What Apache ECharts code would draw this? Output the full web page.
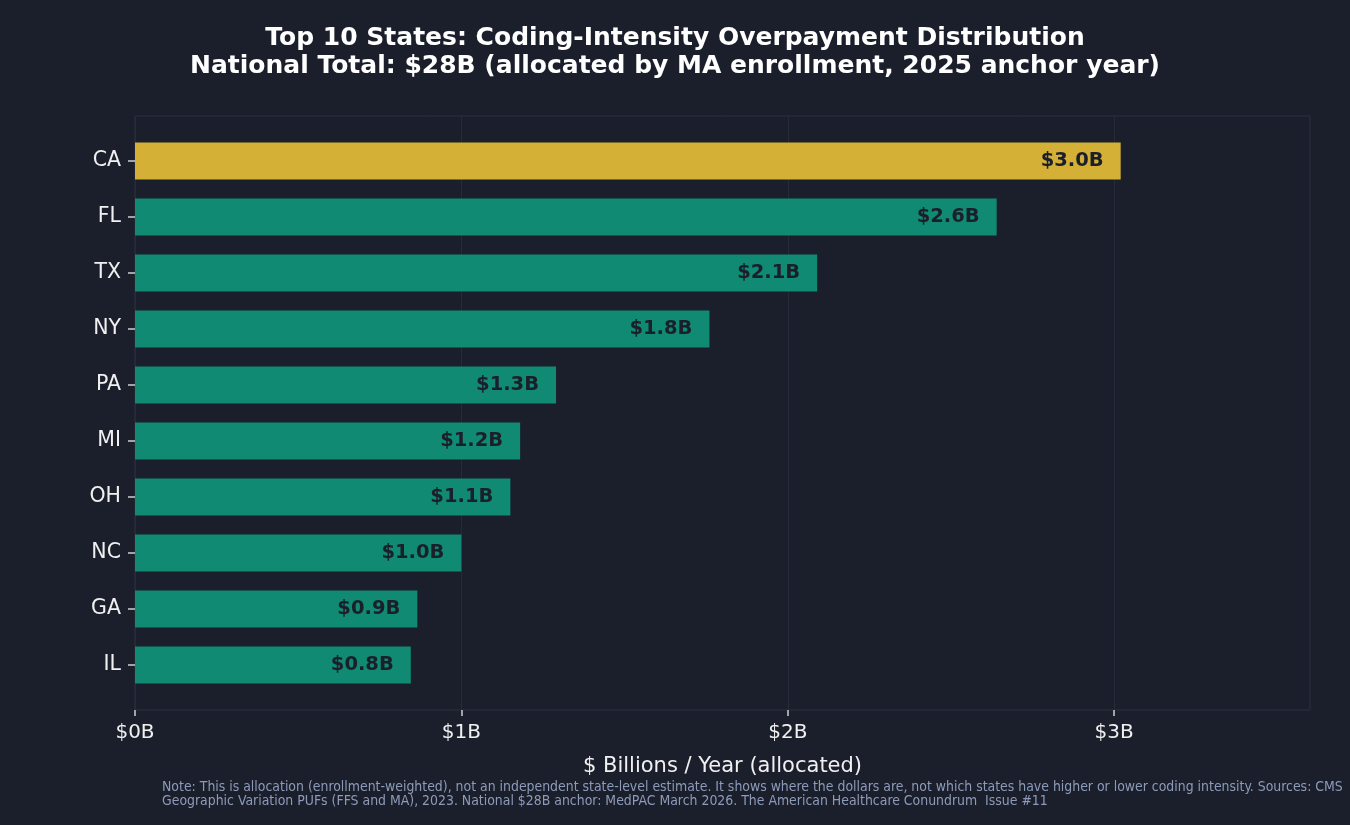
<!DOCTYPE html>
<html>
<head>
<meta charset="utf-8">
<script src="https://cdn.jsdelivr.net/npm/echarts@6/dist/echarts.min.js"></script>
<style>
  html, body { margin: 0; padding: 0; background: #1b1f2c; }
  #chart { width: 1350px; height: 825px; }
</style>
</head>
<body>
<div id="chart"></div>
<script>
// top 10 states, largest first (drawn top to bottom)
const states = ["CA", "FL", "TX", "NY", "PA", "MI", "OH", "NC", "GA", "IL"];
const overpayB = [3.02, 2.64, 2.09, 1.76, 1.29, 1.18, 1.15, 1.0, 0.865, 0.845];
const xTicks = [0, 1, 2, 3];

const BG = "#1b1f2c";
const GOLD = "#d4b037";
const TEAL = "#108a72";
const FONT = "DejaVu Sans";

const chart = echarts.init(document.getElementById("chart"));

chart.setOption({
  backgroundColor: BG,
  animation: false,
  title: {
    text: "Top 10 States: Coding-Intensity Overpayment Distribution\nNational Total: $28B (allocated by MA enrollment, 2025 anchor year)",
    left: "center",
    top: 19,
    textStyle: {
      color: "#ffffff",
      fontFamily: FONT,
      fontWeight: "bold",
      fontSize: 25,
      lineHeight: 28,
    },
  },
  graphic: [
    {
      type: "text",
      left: 162,
      top: 780,
      style: {
        text: "Note: This is allocation (enrollment-weighted), not an independent state-level estimate. It shows where the dollars are, not which states have higher or lower coding intensity. Sources: CMS\nGeographic Variation PUFs (FFS and MA), 2023. National $28B anchor: MedPAC March 2026. The American Healthcare Conundrum  Issue #11",
        fill: "#8d9bb8",
        font: "13.9px 'DejaVu Sans Condensed', 'DejaVu Sans'",
        lineHeight: 14,
      },
    },
  ],
  // outer grid: frame, x ticks, gridlines; inner grid: bars with category padding
  grid: [
    { left: 135, right: 40, top: 116, bottom: 115, show: true, borderColor: "#2a2f3f", borderWidth: 1 },
    { left: 135, right: 40, top: 133, bottom: 132 },
  ],
  xAxis: [
    {
      gridIndex: 0,
      type: "value",
      min: 0,
      max: 3.6,
      interval: 1,
      name: "$ Billions / Year (allocated)",
      nameLocation: "middle",
      nameGap: 46,
      nameTextStyle: { color: "#f0f0f0", fontSize: 21, fontFamily: FONT },
      axisLine: { show: false },
      axisTick: { show: true, length: 6, customValues: xTicks, lineStyle: { color: "#d0d0d0", width: 1.5 } },
      axisLabel: {
        color: "#f0f0f0",
        fontSize: 20,
        fontFamily: FONT,
        margin: 13,
        customValues: xTicks,
        formatter: (v) => "$" + v + "B",
      },
      splitLine: { show: true, lineStyle: { color: "#262b3a", width: 1 } },
    },
    {
      gridIndex: 1,
      type: "value",
      min: 0,
      max: 3.6,
      show: false,
    },
  ],
  yAxis: [
    { gridIndex: 0, type: "value", show: false, splitLine: { show: false } },
    {
      gridIndex: 1,
      type: "category",
      data: states,
      inverse: true,
      axisLine: { show: false },
      axisTick: { show: true, length: 7, alignWithLabel: true, lineStyle: { color: "#d0d0d0", width: 1.5 } },
      axisLabel: { color: "#f0f0f0", fontSize: 20.5, fontFamily: FONT, margin: 14, padding: [3, 0, 0, 0] },
      splitLine: { show: false },
    },
  ],
  series: [
    {
      type: "bar",
      xAxisIndex: 1,
      yAxisIndex: 1,
      data: overpayB.map((v, i) => ({
        value: v,
        itemStyle: { color: i === 0 ? GOLD : TEAL },
      })),
      barWidth: "66%",
      label: {
        show: true,
        position: "insideRight",
        distance: 17,
        color: BG,
        fontWeight: "bold",
        fontSize: 19.5,
        fontFamily: FONT,
        formatter: (p) => "$" + p.value.toFixed(1) + "B",
      },
    },
  ],
});
</script>
</body>
</html>
